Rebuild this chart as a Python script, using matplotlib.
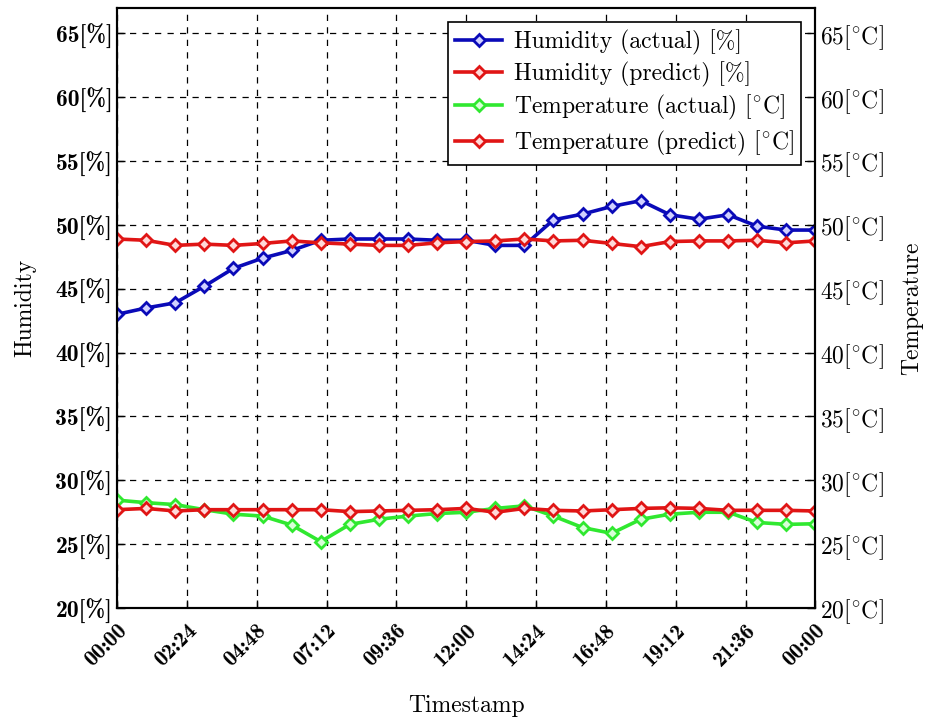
import numpy as np
import matplotlib
matplotlib.use("Agg")
import matplotlib.pyplot as plt

plt.rcParams['mathtext.fontset'] = 'cm'
plt.rcParams['axes.unicode_minus'] = False

hours = np.arange(25)

hum_actual = [43.0, 43.5, 43.9, 45.2, 46.6, 47.4, 48.0, 48.8, 48.9, 48.9, 48.9, 48.8, 48.8,
              48.4, 48.4, 50.4, 50.85, 51.45, 51.9, 50.8, 50.45, 50.8, 49.9, 49.6, 49.6]
hum_predict = [48.9, 48.8, 48.4, 48.5, 48.4, 48.55, 48.75, 48.6, 48.5, 48.4, 48.4, 48.6, 48.7,
               48.75, 48.9, 48.75, 48.8, 48.55, 48.3, 48.7, 48.75, 48.75, 48.8, 48.6, 48.75]
temp_actual = [28.45, 28.25, 28.1, 27.7, 27.35, 27.2, 26.5, 25.2, 26.55, 26.95, 27.2, 27.4, 27.5,
               27.8, 28.0, 27.2, 26.3, 25.85, 26.95, 27.35, 27.5, 27.5, 26.7, 26.55, 26.6]
temp_predict = [27.7, 27.8, 27.6, 27.7, 27.7, 27.7, 27.7, 27.7, 27.55, 27.6, 27.65, 27.7, 27.8,
                27.5, 27.8, 27.65, 27.6, 27.7, 27.8, 27.85, 27.8, 27.65, 27.65, 27.65, 27.6]

xtick_pos = np.arange(0, 24.01, 2.4)
xtick_labels = ["00:00", "02:24", "04:48", "07:12", "09:36", "12:00",
                "14:24", "16:48", "19:12", "21:36", "00:00"]
ytick_vals = np.arange(20, 66, 5)

fig = plt.figure(figsize=(9.25, 7.17), dpi=100)
ax = fig.add_axes([0.1265, 0.152, 0.755, 0.837])
ax2 = ax.twinx()

blue = '#0a0ab8'
red = '#e01515'
green = '#30e830'
light = {blue: '#d0d0ff', red: '#ffd8d8', green: '#d8ffd8'}

def mk(color):
    return dict(lw=2.6, marker='D', ms=6, mec=color, mfc=light[color], mew=2, color=color)

l1, = ax.plot(hours, hum_actual, label="Humidity (actual) [%]", **mk(blue))
l2, = ax.plot(hours, hum_predict, label="Humidity (predict) [%]", **mk(red))
l3, = ax2.plot(hours, temp_actual, label="Temperature (actual) [$^{\\circ}$C]", **mk(green))
l4, = ax2.plot(hours, temp_predict, label="Temperature (predict) [$^{\\circ}$C]", **mk(red))

for a in (ax, ax2):
    a.set_ylim(20, 67)
    a.set_xlim(0, 24)
    a.tick_params(direction='in', length=6, width=1)
    for s in a.spines.values():
        s.set_linewidth(1.5)

ax.set_xticks(xtick_pos)
ax.set_xticklabels(xtick_labels, rotation=45, fontfamily='cmb10', fontsize=16,
                   ha='right', rotation_mode='anchor')
ax.set_yticks(ytick_vals)
ax.set_yticklabels(["%d[%%]" % v for v in ytick_vals], fontfamily='cmb10', fontsize=17)
ax2.set_yticks(ytick_vals)
ax2.set_yticklabels(["%d[$^{\\circ}$C]" % v for v in ytick_vals], fontfamily='cmr10', fontsize=17)
ax.tick_params(axis='x', pad=9)

ax.grid(True, color='black', linestyle=(0, (5, 5)), linewidth=0.9)

ax.set_xlabel("Timestamp", fontfamily='cmr10', fontsize=17, labelpad=18)
ax.set_ylabel("Humidity", fontfamily='cmr10', fontsize=17, labelpad=14)
ax2.set_ylabel("Temperature", fontfamily='cmr10', fontsize=17, labelpad=12)

leg = ax2.legend(handles=[l1, l2, l3, l4], loc='upper right', fancybox=False,
                 framealpha=1, edgecolor='black', prop={'family': 'cmr10', 'size': 17},
                 borderaxespad=0.6, handlelength=2.0, handletextpad=0.5,
                 labelspacing=0.28, borderpad=0.3)
leg.get_frame().set_linewidth(1.2)

fig.savefig("out.png", dpi=100)
